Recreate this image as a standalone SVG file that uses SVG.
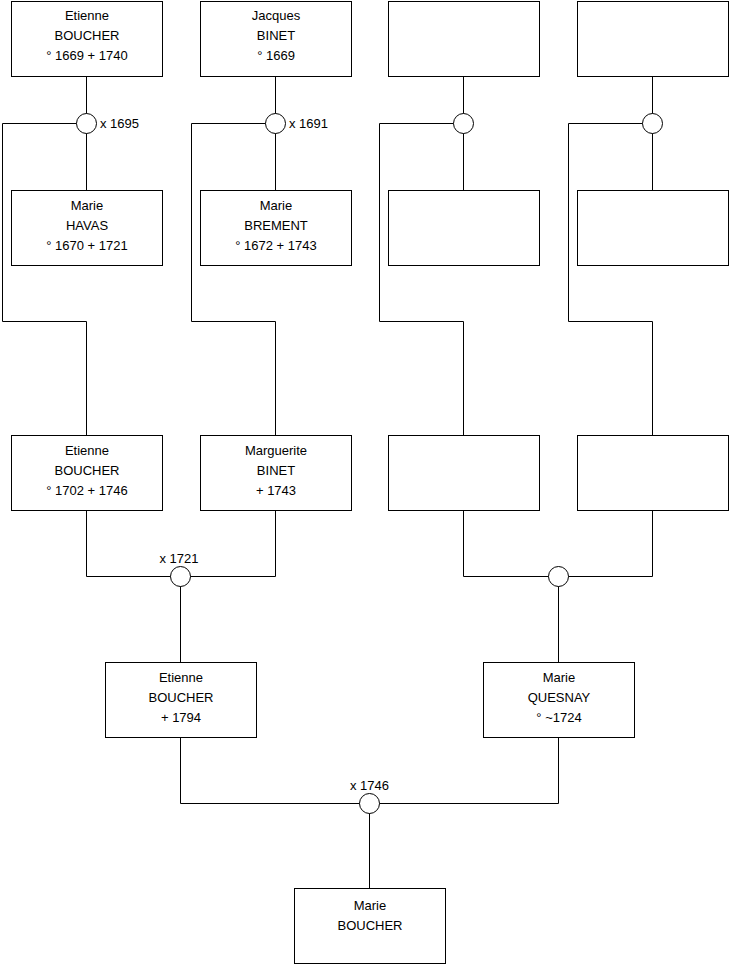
<svg xmlns="http://www.w3.org/2000/svg" width="740" height="975" viewBox="0 0 740 975">
<style>
.box{fill:#fff;stroke:#000;stroke-width:1}
.ring{fill:#fff;stroke:#000;stroke-width:1}
.wire{fill:none;stroke:#000;stroke-width:1}
text{font-family:"Liberation Sans",Arial,sans-serif;font-size:13px;fill:#000}
.c{text-anchor:middle}
</style>
<rect width="740" height="975" fill="#fff"/>
<g id="connectors">
<path class="wire" d="M86.5 76.5V190.5M86.5 123.5H2.5V321.5H86.5V435.5"/>
<path class="wire" d="M275.5 76.5V190.5M275.5 123.5H191.5V321.5H275.5V435.5"/>
<path class="wire" d="M463.5 76.5V190.5M463.5 123.5H379.5V321.5H463.5V435.5"/>
<path class="wire" d="M652.5 76.5V190.5M652.5 123.5H568.5V321.5H652.5V435.5"/>
<path class="wire" d="M86.5 510.5V576.5H275.5V510.5M180.5 576.5V662.5"/>
<path class="wire" d="M463.5 510.5V576.5H652.5V510.5M558.5 576.5V662.5"/>
<path class="wire" d="M180.5 737.5V803.5H558.5V737.5M369.5 803.5V888.5"/>
<circle class="ring" cx="86.5" cy="123.5" r="10"/>
<circle class="ring" cx="275.5" cy="123.5" r="10"/>
<circle class="ring" cx="463.5" cy="123.5" r="10"/>
<circle class="ring" cx="652.5" cy="123.5" r="10"/>
<circle class="ring" cx="180.5" cy="576.5" r="10"/>
<circle class="ring" cx="558.5" cy="576.5" r="10"/>
<circle class="ring" cx="369.5" cy="803.5" r="10"/>
<text x="100" y="128">x 1695</text>
<text x="289" y="128">x 1691</text>
<text class="c" x="179" y="563">x 1721</text>
<text class="c" x="369.5" y="790">x 1746</text>
</g>
<g id="n1"><rect class="box" x="11.5" y="1.5" width="151" height="75"/>
<text class="c" x="87" y="20">Etienne</text><text class="c" x="87" y="40">BOUCHER</text><text class="c" x="87" y="60">° 1669 + 1740</text></g>
<g id="n2"><rect class="box" x="200.5" y="1.5" width="151" height="75"/>
<text class="c" x="276" y="20">Jacques</text><text class="c" x="276" y="40">BINET</text><text class="c" x="276" y="60">° 1669</text></g>
<g id="n3"><rect class="box" x="388.5" y="1.5" width="151" height="75"/></g>
<g id="n4"><rect class="box" x="577.5" y="1.5" width="151" height="75"/></g>
<g id="n5"><rect class="box" x="11.5" y="190.5" width="151" height="75"/>
<text class="c" x="87" y="210">Marie</text><text class="c" x="87" y="230">HAVAS</text><text class="c" x="87" y="250">° 1670 + 1721</text></g>
<g id="n6"><rect class="box" x="200.5" y="190.5" width="151" height="75"/>
<text class="c" x="276" y="210">Marie</text><text class="c" x="276" y="230">BREMENT</text><text class="c" x="276" y="250">° 1672 + 1743</text></g>
<g id="n7"><rect class="box" x="388.5" y="190.5" width="151" height="75"/></g>
<g id="n8"><rect class="box" x="577.5" y="190.5" width="151" height="75"/></g>
<g id="n9"><rect class="box" x="11.5" y="435.5" width="151" height="75"/>
<text class="c" x="87" y="455">Etienne</text><text class="c" x="87" y="475">BOUCHER</text><text class="c" x="87" y="495">° 1702 + 1746</text></g>
<g id="n10"><rect class="box" x="200.5" y="435.5" width="151" height="75"/>
<text class="c" x="276" y="455">Marguerite</text><text class="c" x="276" y="475">BINET</text><text class="c" x="276" y="495">+ 1743</text></g>
<g id="n11"><rect class="box" x="388.5" y="435.5" width="151" height="75"/></g>
<g id="n12"><rect class="box" x="577.5" y="435.5" width="151" height="75"/></g>
<g id="n13"><rect class="box" x="105.5" y="662.5" width="151" height="75"/>
<text class="c" x="181" y="682">Etienne</text><text class="c" x="181" y="702">BOUCHER</text><text class="c" x="181" y="722">+ 1794</text></g>
<g id="n14"><rect class="box" x="483.5" y="662.5" width="151" height="75"/>
<text class="c" x="559" y="682">Marie</text><text class="c" x="559" y="702">QUESNAY</text><text class="c" x="559" y="722">° ~1724</text></g>
<g id="n15"><rect class="box" x="294.5" y="888.5" width="151" height="75"/>
<text class="c" x="370" y="910">Marie</text><text class="c" x="370" y="930">BOUCHER</text></g>
</svg>
